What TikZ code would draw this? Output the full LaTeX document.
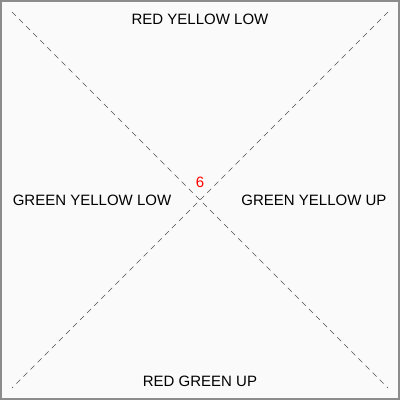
\documentclass[tikz,border=0pt]{standalone}
\usepackage{fontspec}
\setmainfont{Liberation Sans}
\definecolor{qbg}{RGB}{250,250,250}
\definecolor{qframe}{RGB}{140,140,140}
\definecolor{qline}{RGB}{80,80,80}
\definecolor{qred}{RGB}{255,0,0}

\begin{document}
\begin{tikzpicture}[x=1pt,y=-1pt,
  lbl/.style={font=\fontsize{15}{18}\selectfont,text=black,inner sep=0pt},
  diag/.style={qline,line width=0.7pt,dash pattern=on 5.5pt off 4.5pt}]
  \useasboundingbox (0,0) rectangle (400,400);
  \draw[qframe,fill=qbg,line width=2pt] (1,1) rectangle (399,399);
  \coordinate (TL) at (12,12);
  \coordinate (TR) at (388,12);
  \coordinate (BL) at (12,388);
  \coordinate (BR) at (388,388);
  \draw[diag] (TL) -- (BR);
  \draw[diag] (TR) -- (BL);
  \node[lbl] (top) at (200,19) {RED YELLOW LOW};
  \node[lbl] (left) at (92,200) {GREEN YELLOW LOW};
  \node[lbl] (right) at (314,200) {GREEN YELLOW UP};
  \node[lbl] (bottom) at (200,381) {RED GREEN UP};
  \node[lbl,text=qred] (mid) at (200,182) {6};
\end{tikzpicture}
\end{document}
